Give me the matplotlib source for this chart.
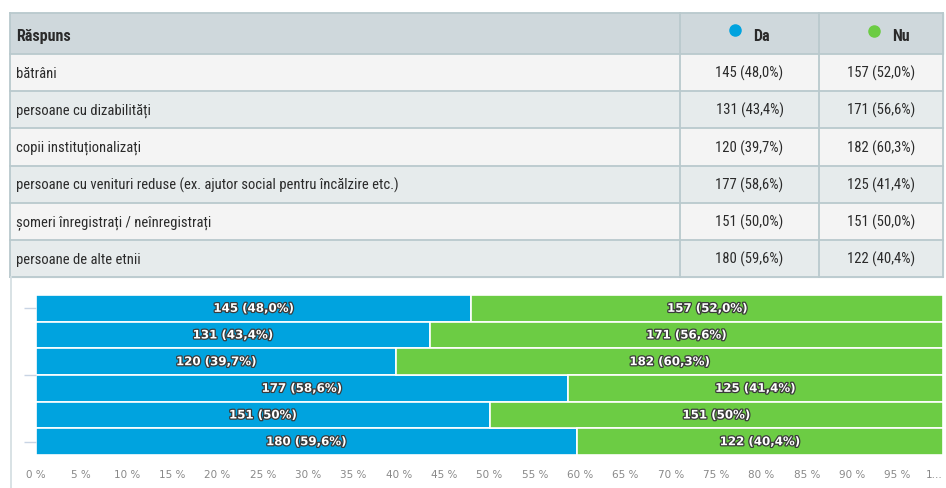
import matplotlib
matplotlib.use("Agg")
import matplotlib.pyplot as plt
import matplotlib.patheffects as pe
from matplotlib.patches import Rectangle
from matplotlib import font_manager

# data
categories = ["bătrâni", "persoane cu dizabilități", "copii instituționalizați",
              "persoane cu venituri reduse (ex. ajutor social pentru încălzire etc.)",
              "șomeri înregistrați / neînregistrați", "persoane de alte etnii"]
da_counts = [145, 131, 120, 177, 151, 180]
nu_counts = [157, 171, 182, 125, 151, 122]
da_pct = [48.0, 43.4, 39.7, 58.6, 50.0, 59.6]
nu_pct = [52.0, 56.6, 60.3, 41.4, 50.0, 40.4]
bar_da_labels = ["145 (48,0%)", "131 (43,4%)", "120 (39,7%)", "177 (58,6%)", "151 (50%)", "180 (59,6%)"]
bar_nu_labels = ["157 (52,0%)", "171 (56,6%)", "182 (60,3%)", "125 (41,4%)", "151 (50%)", "122 (40,4%)"]
xticks = list(range(0, 101, 5))
xtick_labels = [f"{t} %" for t in xticks[:-1]] + ["1..."]

BLUE = "#00a3df"
GREEN = "#6ccc44"
TXT = "#2a2a2a"

# pick a narrow font for the table if one exists
fonts = font_manager.fontManager.ttflist
names = {f.name for f in fonts}
tfont = dict(family="Roboto", fontsize=9.5)
hsize = 10
for cand in ["Roboto Condensed", "Liberation Sans Narrow", "Open Sans Condensed", "Noto Sans Condensed"]:
    if cand in names:
        tfont = dict(family=cand, fontsize=10.5)
        hsize = 11.5
        break
else:
    if any(f.name == "DejaVu Sans" and f.stretch == "condensed" for f in fonts):
        tfont = dict(family="DejaVu Sans", fontstretch="condensed", fontsize=9.5)
hfont = dict(tfont, fontsize=hsize)

W, H = 946, 489
fig = plt.figure(figsize=(W / 100, H / 100), dpi=100)

def fx(x):
    return x / W

def fy(y):
    return 1 - y / H

# ---- table ----
left, right = 10, 943
col1, col2 = 680, 819
header_top, header_bot = 14, 55
row_h = 37.2
border = "#b9c9cd"

fig.patches.append(Rectangle((fx(left), fy(header_bot)), fx(right - left), (header_bot - header_top) / H,
                             transform=fig.transFigure, color="#cfd8dc", zorder=0))
for i in range(len(categories)):
    top = header_bot + i * row_h
    color = "#f4f4f4" if i % 2 == 0 else "#e6ebec"
    fig.patches.append(Rectangle((fx(left), fy(top + row_h)), fx(right - left), row_h / H,
                                 transform=fig.transFigure, color=color, zorder=0))
    ymid = fy(top + row_h / 2)
    fig.text(fx(16), ymid, categories[i], va="center", color=TXT, **tfont)
    fig.text(fx((col1 + col2) / 2), ymid, f"{da_counts[i]} ({da_pct[i]:.1f}%)".replace(".", ","),
             va="center", ha="center", color=TXT, **tfont)
    fig.text(fx((col2 + right) / 2), ymid, f"{nu_counts[i]} ({nu_pct[i]:.1f}%)".replace(".", ","),
             va="center", ha="center", color=TXT, **tfont)

table_bot = header_bot + len(categories) * row_h
for k in range(len(categories) + 2):
    y = header_top if k == 0 else header_bot + (k - 1) * row_h
    fig.add_artist(plt.Line2D([fx(left), fx(right)], [fy(y), fy(y)], color=border, lw=1.3))
for x in [left, col1, col2, right]:
    fig.add_artist(plt.Line2D([fx(x), fx(x)], [fy(header_top), fy(table_bot)], color=border, lw=1.3))

hmid = fy((header_top + header_bot) / 2 + 2)
fig.text(fx(16), hmid, "Răspuns", weight="bold", va="center", color=TXT, **hfont)
fig.add_artist(plt.Line2D([fx(735)], [fy(31)], marker="o", markersize=8, color=BLUE, lw=0))
fig.text(fx(753), hmid, "Da", weight="bold", va="center", color=TXT, **hfont)
fig.add_artist(plt.Line2D([fx(874)], [fy(32)], marker="o", markersize=8, color=GREEN, lw=0))
fig.text(fx(892), hmid, "Nu", weight="bold", va="center", color=TXT, **hfont)

# left border line running down past the table
fig.add_artist(plt.Line2D([fx(11), fx(11)], [fy(table_bot), 0], color="#d5dfe3", lw=1.3))

# ---- stacked bar chart ----
ax = fig.add_axes([fx(36), fy(456), fx(943 - 36), (456 - 296) / H])
ypos = list(range(len(categories)))
ax.barh(ypos, da_pct, height=1.0, color=BLUE, edgecolor="white", linewidth=1.2)
ax.barh(ypos, nu_pct, left=da_pct, height=1.0, color=GREEN, edgecolor="white", linewidth=1.2)

outline = [pe.withStroke(linewidth=1.8, foreground="#3a3a3a")]
for i in ypos:
    ax.text(da_pct[i] / 2, i, bar_da_labels[i], ha="center", va="center", color="white",
            fontsize=8.5, weight="bold", path_effects=outline)
    ax.text(da_pct[i] + nu_pct[i] / 2, i, bar_nu_labels[i], ha="center", va="center", color="white",
            fontsize=8.5, weight="bold", path_effects=outline)

ax.set_xlim(0, 100)
ax.set_ylim(len(categories) - 0.5, -0.5)
ax.set_xticks(xticks)
ax.set_xticklabels(xtick_labels, fontsize=7.5, color="#888888")
ax.get_xticklabels()[-1].set_horizontalalignment("right")
ax.tick_params(axis="x", length=0, pad=10)
ax.set_yticks([0, 2.5, 5])
ax.set_yticklabels([])
ax.tick_params(axis="y", length=9, color="#c8d4e4", width=1)
for s in ax.spines.values():
    s.set_visible(False)

fig.savefig("out.png", dpi=100)
